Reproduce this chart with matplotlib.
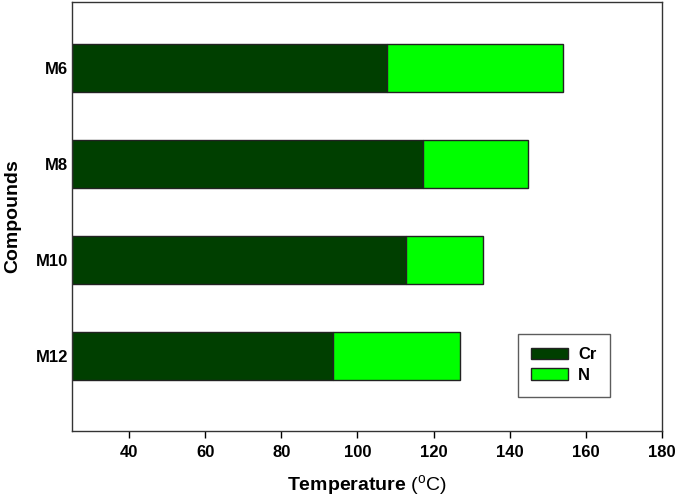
import matplotlib
matplotlib.use("Agg")
import matplotlib.pyplot as plt
import numpy as np

compounds = ["M6", "M8", "M10", "M12"]
cr_end = [107.7, 117.2, 112.8, 93.5]
n_end = [154.0, 144.7, 132.9, 126.9]
x_start = 25

plt.rcParams["font.family"] = ["Liberation Sans", "DejaVu Sans"]
plt.rcParams["mathtext.fontset"] = "custom"
plt.rcParams["mathtext.rm"] = "Liberation Sans"
plt.rcParams["mathtext.bf"] = "Liberation Sans:bold"

fig = plt.figure(figsize=(6.75, 4.97), dpi=100)
ax = fig.add_axes([72 / 675, 66 / 497, 590 / 675, 429 / 497])

y = np.arange(len(compounds))[::-1]
cr_w = [c - x_start for c in cr_end]
n_w = [n - c for n, c in zip(n_end, cr_end)]

ax.barh(y, cr_w, left=x_start, height=0.5, color="#003f00",
        edgecolor="#222222", linewidth=1, label="Cr")
ax.barh(y, n_w, left=cr_end, height=0.5, color="#00ff00",
        edgecolor="#222222", linewidth=1, label="N")

ax.set_xlim(25, 180)
ax.set_ylim(-0.78, 3.69)
ax.set_xticks(range(40, 181, 20))
ax.set_yticks(y)
ax.set_yticklabels(compounds)
for lbl in ax.get_xticklabels() + ax.get_yticklabels():
    lbl.set_fontweight("bold")
    lbl.set_fontsize(12)
ax.tick_params(axis="x", direction="out", length=5, width=1, pad=5)
ax.tick_params(axis="y", length=0, pad=3)
for sp in ax.spines.values():
    sp.set_linewidth(1)
    sp.set_color("#333333")

ax.set_xlabel(r"$\mathbf{Temperature}$ ($^{\mathrm{o}}$C)", fontsize=14, labelpad=10)
ax.set_ylabel("Compounds", fontsize=14, fontweight="bold", labelpad=10)

leg = ax.legend(loc="upper left", bbox_to_anchor=(518 / 675, 1 - 334 / 497),
                bbox_transform=fig.transFigure, frameon=True, fancybox=False,
                prop={"weight": "bold", "size": 12}, handlelength=2.2,
                handleheight=0.7, handletextpad=0.6, borderpad=0.8,
                labelspacing=0.35, borderaxespad=0)
leg.get_frame().set_edgecolor("#333333")
leg.get_frame().set_linewidth(1)

fig.savefig("out.png", dpi=100)
